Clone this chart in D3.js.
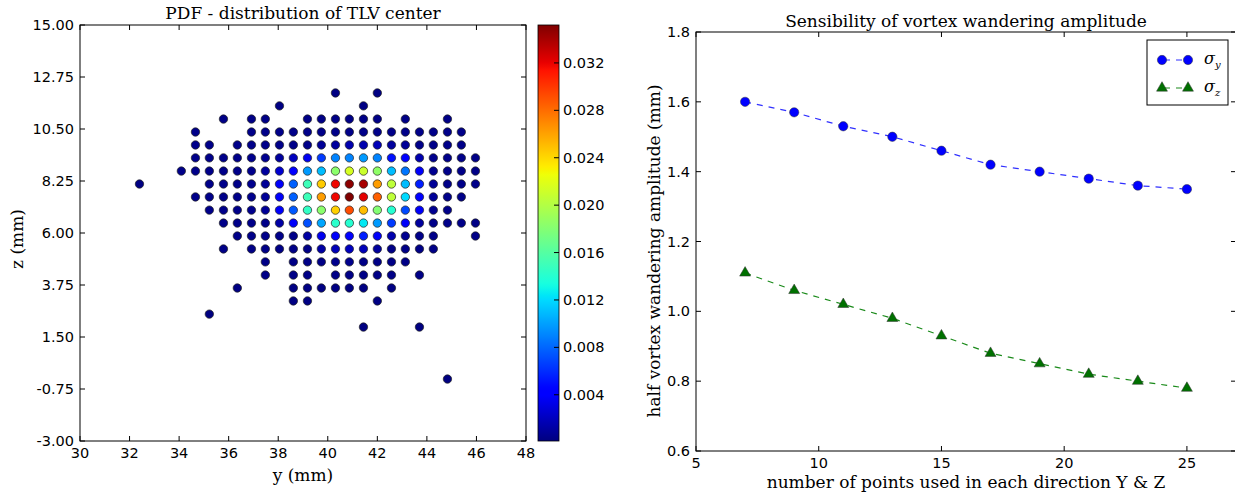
<!DOCTYPE html>
<html>
<head>
<meta charset="utf-8">
<script src="https://cdn.jsdelivr.net/npm/d3@7"></script>
<style>
  body { margin: 0; background: #fff; }
  text { fill: #000; }
</style>
</head>
<body>
<script>
// left panel: binned TLV centre positions (bin centres in mm)
const yBins = [32.40, 32.96, 33.53, 34.09, 34.66, 35.22, 35.79, 36.35, 36.92, 37.48, 38.05, 38.61,
  39.18, 39.74, 40.31, 40.87, 41.44, 42.00, 42.57, 43.13, 43.70, 44.26, 44.83, 45.39, 45.96];
const zBins = [12.06, 11.50, 10.93, 10.37, 9.81, 9.25, 8.68, 8.12, 7.56, 6.99, 6.43, 5.87,
  5.31, 4.75, 4.18, 3.62, 3.06, 2.49, 1.93, 1.37, 0.80, 0.24, -0.32];
// pdf x 1e-4, one row per z bin, one column per y bin, 0 = empty
const pdfE4 = [
  [0,0,0, 0,0,0,0,0,0,0,0,0,0,0,2,0,0,2,0,0,0,0,0,0,0],
  [0,0,0, 0,0,0,0,0,0,0,2,0,0,0,0,0,2,0,0,0,0,0,0,0,0],
  [0,0,0, 0,0,0,3,0,3,3,0,0,3,3,3,3,3,3,0,3,0,0,3,0,0],
  [0,0,0, 0,4,0,0,0,4,4,4,4,4,4,4,4,4,4,4,4,4,4,4,4,0],
  [0,0,0, 0,4,4,0,4,4,4,4,4,4,8,10,15,15,18,10,8,4,4,4,4,0],
  [0,0,0, 0,4,4,4,4,5,6,10,20,35,65,90,90,98,90,50,42,15,5,4,4,3],
  [0,0,0, 4,4,4,4,4,5,10,25,40,98,110,183,215,210,185,110,85,38,6,4,4,3],
  [2,0,0, 0,0,4,4,4,5,8,38,78,150,245,318,348,340,262,205,110,55,8,4,4,4],
  [0,0,0, 0,4,4,4,4,5,8,38,78,150,262,318,352,322,285,205,120,40,8,4,4,0],
  [0,0,0, 0,0,4,4,4,5,8,38,75,145,183,243,292,250,180,140,70,38,6,4,0,0],
  [0,0,0, 0,0,0,4,4,4,4,12,38,72,102,142,140,125,98,65,38,10,4,4,4,3],
  [0,0,0, 0,0,0,0,4,4,4,4,4,12,35,38,40,55,38,15,6,4,4,0,0,3],
  [0,0,0, 0,0,0,3,0,3,3,3,3,3,12,18,20,18,10,3,3,3,3,0,0,0],
  [0,0,0, 0,0,0,0,0,0,3,0,3,3,3,5,5,3,3,3,3,0,0,0,0,0],
  [0,0,0, 0,0,0,0,0,0,3,0,3,3,0,3,3,3,3,3,0,3,0,0,0,0],
  [0,0,0, 0,0,0,0,2,0,0,0,2,2,2,2,2,2,0,2,0,0,0,0,0,0],
  [0,0,0, 0,0,0,0,0,0,0,0,2,2,0,0,0,0,2,0,0,0,0,0,0,0],
  [0,0,0, 0,0,1,0,0,0,0,0,0,0,0,0,0,0,0,0,0,0,0,0,0,0],
  [0,0,0, 0,0,0,0,0,0,0,0,0,0,0,0,0,1,0,0,0,1,0,0,0,0],
  [0,0,0, 0,0,0,0,0,0,0,0,0,0,0,0,0,0,0,0,0,0,0,0,0,0],
  [0,0,0, 0,0,0,0,0,0,0,0,0,0,0,0,0,0,0,0,0,0,0,0,0,0],
  [0,0,0, 0,0,0,0,0,0,0,0,0,0,0,0,0,0,0,0,0,0,0,0,0,0],
  [0,0,0, 0,0,0,0,0,0,0,0,0,0,0,0,0,0,0,0,0,0,0,1,0,0]
];
const yTicks = [30, 32, 34, 36, 38, 40, 42, 44, 46, 48];
const zTicks = [15.00, 12.75, 10.50, 8.25, 6.00, 3.75, 1.50, -0.75, -3.00];
const pdfTicks = [0.004, 0.008, 0.012, 0.016, 0.020, 0.024, 0.028, 0.032];
const pdfRange = [0.0001, 0.0352];

// right panel: wandering amplitude vs number of points
const nPoints = [7, 9, 11, 13, 15, 17, 19, 21, 23, 25];
const sigmaY = [1.60, 1.57, 1.53, 1.50, 1.46, 1.42, 1.40, 1.38, 1.36, 1.35];
const sigmaZ = [1.11, 1.06, 1.02, 0.98, 0.93, 0.88, 0.85, 0.82, 0.80, 0.78];
const nTicks = [5, 10, 15, 20, 25];
const ampTicks = [0.6, 0.8, 1.0, 1.2, 1.4, 1.6, 1.8];

const W = 1235, H = 493;
const serif = "'DejaVu Serif', serif";
const sans = "'DejaVu Sans', sans-serif";
const tickSize = 14.5, labelSize = 17;

const svg = d3.select("body").append("svg").attr("width", W).attr("height", H);

// matplotlib jet
const jetR = d3.scaleLinear().domain([0, 0.35, 0.66, 0.89, 1]).range([0, 0, 1, 1, 0.5]).clamp(true);
const jetG = d3.scaleLinear().domain([0, 0.125, 0.375, 0.64, 0.91, 1]).range([0, 0, 1, 1, 0, 0]).clamp(true);
const jetB = d3.scaleLinear().domain([0, 0.11, 0.34, 0.65, 1]).range([0.5, 1, 1, 0, 0]).clamp(true);
const jet = t => d3.rgb(jetR(t) * 255, jetG(t) * 255, jetB(t) * 255).formatHex();
const norm = d3.scaleLinear().domain(pdfRange).range([0, 1]).clamp(true);
const color = v => jet(norm(v));

function frame(g, x, y, xt, yt, xfmt, yfmt) {
  const [x0, x1] = x.range(), [y1, y0] = y.range();
  const tl = 5;
  g.append("g").selectAll("line").data(xt).join("line")
    .attr("x1", d => x(d)).attr("x2", d => x(d)).attr("y1", y1).attr("y2", y1 - tl)
    .attr("stroke", "#000");
  g.append("g").selectAll("line").data(xt).join("line")
    .attr("x1", d => x(d)).attr("x2", d => x(d)).attr("y1", y0).attr("y2", y0 + tl)
    .attr("stroke", "#000");
  g.append("g").selectAll("line").data(yt).join("line")
    .attr("x1", x0).attr("x2", x0 + tl).attr("y1", d => y(d)).attr("y2", d => y(d))
    .attr("stroke", "#000");
  g.append("g").selectAll("line").data(yt).join("line")
    .attr("x1", x1).attr("x2", x1 - tl).attr("y1", d => y(d)).attr("y2", d => y(d))
    .attr("stroke", "#000");
  g.append("rect").attr("x", x0).attr("y", y0).attr("width", x1 - x0).attr("height", y1 - y0)
    .attr("fill", "none").attr("stroke", "#000").attr("stroke-width", 1);
  g.append("g").attr("font-family", sans).attr("font-size", tickSize).attr("text-anchor", "middle")
    .selectAll("text").data(xt).join("text")
    .attr("x", d => x(d)).attr("y", y1 + 17).text(xfmt);
  g.append("g").attr("font-family", sans).attr("font-size", tickSize).attr("text-anchor", "end")
    .selectAll("text").data(yt).join("text")
    .attr("x", x0 - 6).attr("y", d => y(d) + 5).text(yfmt);
}

// ---- left: PDF scatter
const xL = d3.scaleLinear().domain([30, 48]).range([80, 526]);
const yL = d3.scaleLinear().domain([-3, 15]).range([441, 25]);

const cells = [];
pdfE4.forEach((row, j) => row.forEach((v, i) => {
  if (v > 0) cells.push({ y: yBins[i], z: zBins[j], pdf: v * 1e-4 });
}));

const left = svg.append("g");
left.append("g").selectAll("circle").data(cells).join("circle")
  .attr("cx", d => xL(d.y)).attr("cy", d => yL(d.z)).attr("r", 4.2)
  .attr("fill", d => color(d.pdf)).attr("stroke", "#222").attr("stroke-width", 0.7);

frame(left, xL, yL, yTicks, zTicks, d => d, d => d.toFixed(2));

left.append("text").attr("x", 303).attr("y", 19).attr("text-anchor", "middle")
  .attr("font-family", serif).attr("font-size", labelSize).text("PDF - distribution of TLV center");
left.append("text").attr("x", 303).attr("y", 481).attr("text-anchor", "middle")
  .attr("font-family", serif).attr("font-size", labelSize).text("y (mm)");
left.append("text").attr("transform", "translate(23,239) rotate(-90)").attr("text-anchor", "middle")
  .attr("font-family", serif).attr("font-size", labelSize).text("z (mm)");

// colorbar
const cb = { x: 538, w: 21, y0: 25, y1: 441 };
const cbScale = d3.scaleLinear().domain(pdfRange).range([cb.y1, cb.y0]);
const grad = svg.append("defs").append("linearGradient").attr("id", "jet")
  .attr("x1", 0).attr("x2", 0).attr("y1", 1).attr("y2", 0);
grad.selectAll("stop").data(d3.range(0, 1.0001, 0.01)).join("stop")
  .attr("offset", d => d).attr("stop-color", d => jet(d));
svg.append("rect").attr("x", cb.x).attr("y", cb.y0).attr("width", cb.w).attr("height", cb.y1 - cb.y0)
  .attr("fill", "url(#jet)").attr("stroke", "#000").attr("stroke-width", 0.8);
svg.append("g").selectAll("line").data(pdfTicks).join("line")
  .attr("x1", cb.x + cb.w).attr("x2", cb.x + cb.w - 5)
  .attr("y1", d => cbScale(d)).attr("y2", d => cbScale(d)).attr("stroke", "#000");
svg.append("g").attr("font-family", sans).attr("font-size", tickSize)
  .selectAll("text").data(pdfTicks).join("text")
  .attr("x", cb.x + cb.w + 4).attr("y", d => cbScale(d) + 5).text(d => d.toFixed(3));

// ---- right: sensibility
const xR = d3.scaleLinear().domain([5, 27]).range([696, 1236]);
const yR = d3.scaleLinear().domain([0.6, 1.8]).range([451, 32]);
const right = svg.append("g");

const series = [
  { name: "y", vals: sigmaY, color: "#0000ff", marker: "circle" },
  { name: "z", vals: sigmaZ, color: "#007000", marker: "triangle" }
];
const markerPath = (m) => m === "circle"
  ? d3.symbol(d3.symbolCircle, 68)()
  : d3.symbol(d3.symbolTriangle, 52)();
const lineColor = s => s.marker === "circle" ? "#3030ff" : "#1a8a1a";

series.forEach(s => {
  const pts = nPoints.map((n, i) => [n, s.vals[i]]);
  right.append("path").datum(pts)
    .attr("d", d3.line().x(d => xR(d[0])).y(d => yR(d[1])))
    .attr("fill", "none").attr("stroke", lineColor(s)).attr("stroke-width", 1.2)
    .attr("stroke-dasharray", "6,6");
  right.append("g").selectAll("path").data(pts).join("path")
    .attr("transform", d => `translate(${xR(d[0])},${yR(d[1])})`)
    .attr("d", markerPath(s.marker))
    .attr("fill", s.color).attr("stroke", "#333").attr("stroke-width", 0.5);
});

frame(right, xR, yR, nTicks, ampTicks, d => d, d => d.toFixed(1));

right.append("text").attr("x", 966).attr("y", 27).attr("text-anchor", "middle")
  .attr("font-family", serif).attr("font-size", labelSize).text("Sensibility of vortex wandering amplitude");
right.append("text").attr("x", 966).attr("y", 488).attr("text-anchor", "middle")
  .attr("font-family", serif).attr("font-size", labelSize).text("number of points used in each direction Y & Z");
right.append("text").attr("transform", "translate(660,251) rotate(-90)").attr("text-anchor", "middle")
  .attr("font-family", serif).attr("font-size", labelSize).text("half vortex wandering amplitude (mm)");

// legend
const lg = right.append("g").attr("transform", "translate(1147,40)");
lg.append("rect").attr("width", 81).attr("height", 65).attr("fill", "#fff").attr("stroke", "#000");
series.forEach((s, i) => {
  const yy = 20 + i * 28;
  lg.append("line").attr("x1", 15).attr("x2", 41).attr("y1", yy).attr("y2", yy)
    .attr("stroke", lineColor(s)).attr("stroke-width", 1.2).attr("stroke-dasharray", "6,6")
    .attr("stroke-dashoffset", -2);
  [15, 41].forEach(xx => lg.append("path").attr("transform", `translate(${xx},${yy})`)
    .attr("d", markerPath(s.marker)).attr("fill", s.color).attr("stroke", "#333").attr("stroke-width", 0.5));
  const t = lg.append("text").attr("x", 57).attr("y", yy + 4)
    .attr("font-family", serif).attr("font-style", "italic").attr("font-size", 16);
  t.append("tspan").text("σ");
  t.append("tspan").attr("dy", 4).attr("font-size", 10).text(s.name);
});
</script>
</body>
</html>
